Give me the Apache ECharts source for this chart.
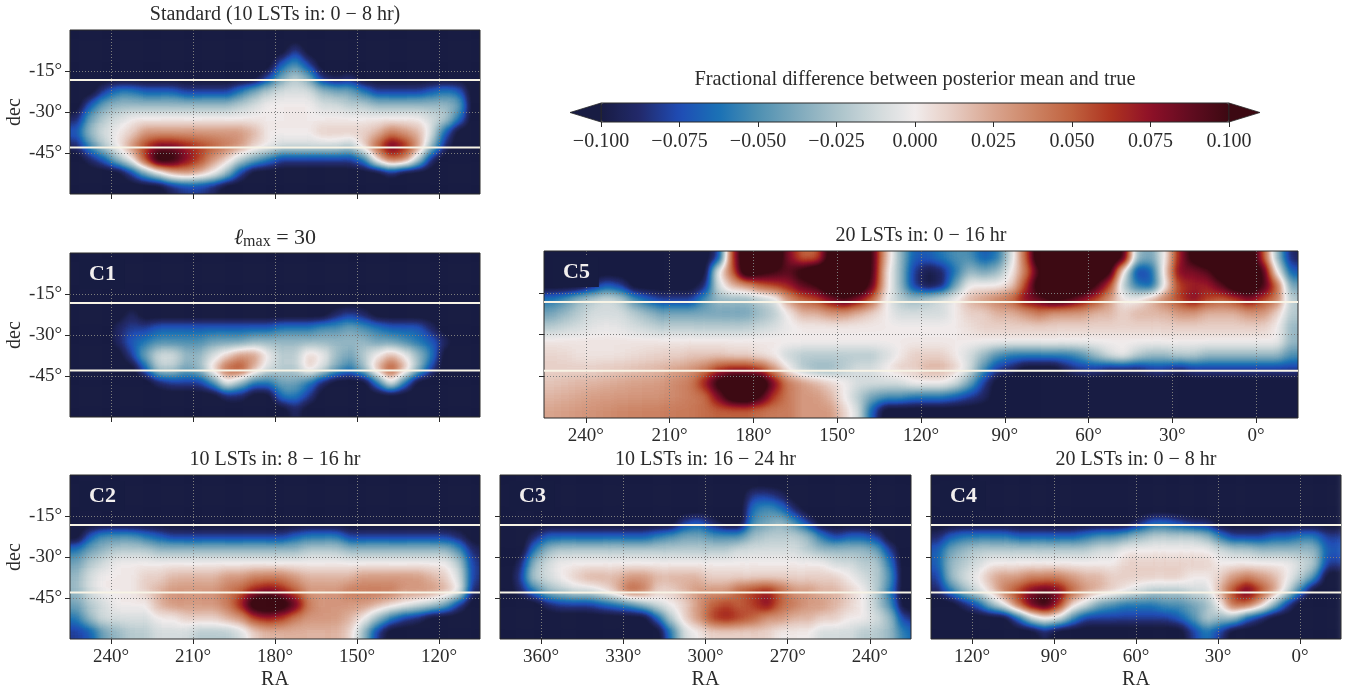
<!DOCTYPE html>
<html><head><meta charset="utf-8">
<style>html,body{margin:0;padding:0;background:#fff}#c{width:1348px;height:692px}#fx{position:absolute;width:0;height:0}</style>
<script src="https://cdn.jsdelivr.net/npm/echarts@6/dist/echarts.min.js"></script>
</head><body><div id="c"></div>
<svg id="fx" xmlns="http://www.w3.org/2000/svg"><filter id="ramp" x="0" y="0" width="100%" height="100%" color-interpolation-filters="sRGB"><feGaussianBlur stdDeviation="5.5"/><feComponentTransfer><feFuncR id="fr" type="table"/><feFuncG id="fg" type="table"/><feFuncB id="fbl" type="table"/></feComponentTransfer></filter></svg>
<script>
const n=-11; // below the colour range, in units of 0.01 fractional difference
const standardValues=[
[n,n,n,n,n,n,n,n,n,n,n,n,n,n,n,n,n,n,n,n,n,n,n,n,n,n,n,n,n,n],
[n,n,n,n,n,n,n,n,n,n,n,n,n,n,n,n,-8,n,n,n,n,n,n,n,n,n,n,n,n,n],
[n,n,n,n,n,n,n,n,n,n,n,n,n,n,n,-7,-5,-8,n,n,n,n,n,n,n,n,n,n,n,n],
[n,n,n,n,n,n,n,n,n,n,n,n,n,n,-8,-4,-2,-4,-9,-10,-9,n,n,n,n,n,n,n,n,n],
[n,n,-8,-6,-6,-7,-7,-7,-8,-8,-8,-8,-6,-4,-2,-1,-1,-1,-3,-4,-4,-6,-8,-8,-8,-8,-7,-6,-7,n],
[n,-7,-4,-3,-3,-3,-3,-3,-3,-3,-3,-3,-2,-1,0,0,0,0,-1,-1,-2,-2,-3,-3,-3,-3,-3,-3,-4,n],
[-9,-4,-2,-1,0,0,0,0,0,0,0,0,0,0,0,0,0,0,0,0,0,0,0,0,0,0,-1,-2,-6,n],
[-7,-3,-1,0,1,3,3,3,3,3,3,3,3,2,0,0,0,0,1,1,1,1,2,4,3,2,-1,-7,n,n],
[-9,-5,-2,0,3,6,8,8,7,6,5,4,3,1,0,-1,-1,-1,-1,-1,-2,1,5,9,7,3,-3,-9,n,n],
[n,-9,-7,-3,0,6,12,11,8,6,3,1,-2,-4,-6,-8,-8,-8,-8,-8,-8,-6,1,5,4,-2,-9,n,n,n],
[n,n,n,n,-8,-4,-1,2,3,2,0,-3,-8,n,n,n,n,n,n,n,n,n,n,-9,n,n,n,n,n,n],
[n,n,n,n,n,n,n,-9,-8,-8,-9,n,n,n,n,n,n,n,n,n,n,n,n,n,n,n,n,n,n,n]];
const c1Values=[
[n,n,n,n,n,n,n,n,n,n,n,n,n,n,n,n,n,n,n,n,n,n,n,n,n,n,n,n,n,n],
[n,n,n,n,n,n,n,n,n,n,n,n,n,n,n,n,n,n,n,n,n,n,n,n,n,n,n,n,n,n],
[n,n,n,n,n,n,n,n,n,n,n,n,n,n,n,n,n,n,n,n,n,n,n,n,n,n,n,n,n,n],
[n,n,n,n,n,n,n,n,n,n,n,n,n,n,n,n,n,n,n,n,n,n,n,n,n,n,n,n,n,n],
[n,n,n,n,-9,n,n,n,n,n,n,n,n,n,n,n,n,n,n,-9,-8,-9,n,n,n,n,n,n,n,n],
[n,n,n,-9,-8,-8,-7,-7,-7,-7,-7,-7,-7,-7,-7,-6,-6,-6,-5,-5,-4,-5,-6,-7,-7,-7,-9,n,n,n],
[n,n,n,-9,-7,-6,-5,-5,-5,-5,-4,-4,-4,-3,-3,-3,-3,-3,-3,-3,-3,-3,-4,-4,-5,-6,-7,-9,n,n],
[n,n,n,n,-8,-4,-1,-1,-3,-3,-1,1,3,3,0,-2,-2,1,0,-3,-4,-2,0,2,0,-3,-6,n,n,n],
[n,n,n,n,n,-7,-2,-2,-4,-3,1,5,6,2,-1,-2,-2,1,-1,-4,-6,-3,2,6,2,-3,-8,n,n,n],
[n,n,n,n,n,n,-9,-8,-8,-8,-5,0,-3,-6,-6,-4,-4,-6,-9,n,n,n,-6,0,-6,n,n,n,n,n],
[n,n,n,n,n,n,n,n,n,n,n,-9,-9,n,n,-6,-6,-8,n,n,n,n,n,n,n,n,n,n,n,n],
[n,n,n,n,n,n,n,n,n,n,n,n,n,n,n,n,-9,n,n,n,n,n,n,n,n,n,n,n,n,n]];
const c2Values=[
[n,n,n,n,n,n,n,n,n,n,n,n,n,n,n,n,n,n,n,n,n,n,n,n,n,n,n,n,n,n],
[n,n,n,n,n,n,n,n,n,n,n,n,n,n,n,n,n,n,n,n,n,n,n,n,n,n,n,n,n,n],
[n,n,n,n,n,n,n,n,n,n,n,n,n,n,n,n,n,n,n,n,n,n,n,n,n,n,n,n,n,n],
[n,n,n,n,n,n,n,n,n,n,n,n,n,n,n,n,n,n,n,n,n,n,n,n,n,n,n,n,n,n],
[n,-7,-5,-5,-5,-6,-7,-8,-8,-8,-8,-8,-8,-8,-8,-8,-7,-6,-6,-6,-8,-8,-8,-8,-8,-8,-8,-8,-9,n],
[-6,-4,-3,-2,-2,-2,-3,-3,-3,-3,-3,-3,-3,-3,-3,-3,-3,-2,-2,-2,-3,-3,-3,-3,-3,-3,-3,-3,-5,-9],
[-4,-2,-1,0,0,0,0,0,0,0,0,0,0,0,0,0,0,0,0,0,0,0,0,0,0,0,0,0,-2,-8],
[-3,-1,0,0,0,1,1,2,2,2,2,3,3,4,4,4,3,2,2,2,2,3,3,3,3,3,2,1,-1,-8],
[-3,-1,0,0,0,1,2,3,3,3,3,4,5,7,8,7,5,3,3,3,4,4,4,4,3,3,3,2,0,-9],
[-4,-2,-1,0,0,0,2,3,3,3,3,4,7,12,13,12,9,4,3,3,3,3,2,1,0,-1,-2,-4,-8,n],
[-6,-3,-1,-1,-1,-1,0,0,1,1,1,2,3,6,7,6,4,3,3,3,2,0,-3,-6,-8,-9,n,n,n,n],
[-8,-7,-4,-3,-2,-2,-1,-1,-1,-2,-2,-2,-1,1,2,2,2,2,2,2,1,-3,-8,n,n,n,n,n,n,n]];
const c3Values=[
[n,n,n,n,n,n,n,n,n,n,n,n,n,n,n,n,n,n,n,n,n,n,n,n,n,n,n,n,n,n],
[n,n,n,n,n,n,n,n,n,n,n,n,n,n,n,n,n,n,-8,-8,-9,n,n,n,n,n,n,n,n,n],
[n,n,n,n,n,n,n,n,n,n,n,n,n,n,n,n,n,n,-6,-5,-6,-9,n,n,n,n,n,n,n,n],
[n,n,n,n,n,n,n,n,n,n,n,n,n,-8,-7,-9,n,n,-5,-4,-3,-5,-8,n,n,n,n,n,n,n],
[n,n,-9,-7,-7,-7,-7,-7,-7,-7,-7,-6,-5,-4,-4,-5,-5,-5,-3,-2,-2,-2,-3,-6,-8,-7,-7,-8,n,n],
[n,n,-6,-3,-2,-2,-2,-2,-2,-2,-2,-2,-2,-2,-2,-2,-2,-1,-1,-1,-1,-1,-2,-3,-3,-3,-3,-4,-8,n],
[n,-9,-3,-1,0,0,0,0,0,0,0,0,0,0,0,0,0,0,0,0,0,0,0,0,-1,-1,-2,-2,-6,n],
[n,-8,-2,-1,0,1,2,2,2,3,3,2,2,2,2,1,1,1,1,1,1,1,1,1,1,0,-1,-2,-5,n],
[n,-9,-6,-3,-2,-1,-1,0,2,5,4,1,1,2,3,3,3,5,6,7,5,3,3,2,2,1,0,-2,-6,n],
[n,n,n,-9,-8,-8,-8,-7,-6,-5,-3,-1,0,1,3,5,6,5,6,8,5,4,3,3,2,1,0,-2,-5,n],
[n,n,n,n,n,n,n,n,n,n,n,-7,-2,1,3,6,7,6,5,3,3,2,2,1,1,0,0,-1,-3,-8],
[n,n,n,n,n,n,n,n,n,n,n,n,-6,-1,0,1,1,1,1,1,0,0,0,-1,-1,-1,-2,-2,-3,-6]];
const c4Values=[
[n,n,n,n,n,n,n,n,n,n,n,n,n,n,n,n,n,n,n,n,n,n,n,n,n,n,n,n,n,n],
[n,n,n,n,n,n,n,n,n,n,n,n,n,n,n,n,n,n,n,n,n,n,n,n,n,n,n,n,n,n],
[n,n,n,n,n,n,n,n,n,n,n,n,n,n,n,n,n,n,n,n,n,n,n,n,n,n,n,n,n,n],
[n,n,n,n,n,n,n,n,n,n,n,n,n,n,n,-9,-7,-7,-8,-9,-9,n,n,n,n,n,n,n,n,n],
[-9,-7,-6,-6,-6,-6,-7,-7,-7,-7,-7,-6,-5,-5,-4,-3,-2,-2,-2,-2,-3,-6,-8,-8,-8,-7,-7,-6,-6,-8],
[-7,-4,-3,-2,-2,-2,-2,-2,-2,-2,-2,-2,-1,-1,0,0,0,0,0,0,0,-1,-2,-2,-3,-3,-3,-3,-3,-7],
[-7,-3,-2,-1,0,0,0,0,0,0,0,0,0,0,1,1,1,1,1,1,1,0,0,0,0,0,0,-1,-2,-8],
[-8,-3,-1,0,2,3,3,4,4,4,3,2,2,1,1,1,1,1,1,0,0,1,3,4,3,2,0,-2,-5,n],
[-9,-6,-3,-1,1,4,6,8,9,8,5,3,2,1,0,-1,-2,-2,-2,-1,-1,2,6,9,6,3,-1,-6,n,n],
[n,n,-9,-7,-3,0,5,9,11,7,1,-1,-4,-5,-6,-6,-6,-5,-5,-4,-3,0,5,5,2,-3,-8,n,n,n],
[n,n,n,n,n,n,-7,-2,0,-1,-5,-8,-8,-8,-8,-8,-8,-8,-7,-5,-2,-3,-3,-7,-9,n,n,n,n,n],
[n,n,n,n,n,n,n,n,-9,n,n,n,n,n,n,n,n,n,n,-8,-6,-8,n,n,n,n,n,n,n,n]];
const c5Values=[
[n,n,n,n,n,n,n,n,n,n,n,n,-8,6,13,13,13,8,5,5,11,13,13,10,2,-3,-7,-7,-6,-5,-5,-7,-6,-1,5,13,13,13,13,13,13,10,-3,-4,0,7,11,13,13,13,13,6,-3,-9],
[n,n,n,n,n,n,n,n,n,n,n,n,0,5,13,11,10,9,11,13,13,13,13,10,1,-3,-8,-10,-9,-6,-3,-4,-3,0,4,10,13,13,13,13,11,0,-8,-7,1,8,8,9,12,13,13,10,0,-7],
[n,n,n,-9,-7,-8,n,n,n,n,n,-9,-1,2,3,5,6,7,9,10,13,13,13,9,1,-3,-8,-10,-9,-4,0,0,0,1,6,12,13,13,13,10,6,-2,-6,-7,0,6,7,7,9,12,13,10,5,-4],
[-6,-5,-3,-2,-1,-2,-5,-7,-8,-8,-8,-5,-3,-3,-3,-2,-1,3,5,6,8,10,8,5,0,-2,-3,-2,-1,0,2,3,4,5,8,9,11,10,8,6,3,0,0,2,4,6,8,6,5,6,8,6,4,-2],
[-4,-3,-2,-1,-1,-1,-2,-3,-4,-4,-4,-4,-4,-4,-4,-3,-2,0,2,2,3,3,2,1,0,-1,-1,-1,-1,0,1,1,2,2,3,4,3,3,3,2,2,1,2,2,2,3,3,2,2,2,3,3,1,-2],
[-2,-1.5,-1,-0.5,-0.3,-0.5,-1,-1.5,-2,-2,-2,-2,-2,-2,-2,-1.5,-1,-0.3,0,0,0,0,0,0,0,0,0,0,0,0,0.5,1,1,1,1,1,1,1,1,1,1,1,1,1,1,1,1,1,1,1,1,1,0,-3],
[0.3,0.3,0.3,0.3,0.3,0.3,0.3,0.3,0.3,0.3,0.3,0.3,0.3,0.3,0.3,0.3,0.3,0,0,0,0,0,0,0,0,0,0,0,0,0,0,0,0,0,0,0,0,0,0,0,0,0,0,0,0,0,0,0,0,0,0,0,0,-3],
[0.8,0.7,0.4,0.3,0.3,0.4,0.6,0.8,1,1,1.5,1.5,1.5,1,1,0.5,0,-1.5,-2,-2,-2,-2,-2,-2,-1,0,1,1,1,0,-1,-3,-5,-6,-6,-6,-6,-6,-5,-3,-1,0,-2,-3,-3,-2,-2,-3,-3,-3,-3,-3,-3,-5],
[1,1,1,1,1.2,1.3,1.6,1.8,2,2.5,3,4,6,7,7,6,3,0,-2,-3,-3,-2,-1,-1,0,1,1,2,2,1,-1,-5,-8,-9,n,n,n,-9,-8,-8,-9,-9,-9,-8,-8,-9,-8,-8,-8,-8,-8,-8,-8,-8],
[1.5,1.7,1.9,2,2.2,2.4,2.6,2.8,3,3.5,4,7,11,13,13,13,8,4,3,2,1,0,-1,-1,-1,-1,0,0,0,-1,-4,-8,n,n,n,n,n,n,n,n,n,n,n,n,n,n,n,n,n,n,n,n,n,n],
[2,2.2,2.4,2.7,2.9,3,3.1,3.2,3.3,3.5,4,4.5,8,12,13,10,6,4,3,3,2,0,-2,-4,-5,-5,-6,-6,-6,-7,-8,-9,n,n,n,n,n,n,n,n,n,n,n,n,n,n,n,n,n,n,n,n,n,n],
[2.5,2.8,3,3.2,3.4,3.6,3.7,3.8,3.9,4,4.2,4.6,5,5,5,4.5,4,4,3,3,3,1,-1,-7,n,n,n,n,n,n,n,n,n,n,n,n,n,n,n,n,n,n,n,n,n,n,n,n,n,n,n,n,n,n]];
const decTicks=[-45,-30,-15];
const bandEdges=[-43,-18.3];
const colorStops=['#181c43','#222a6c','#1f4cb5','#1a71b5','#4e90b2','#7ea9bc','#a9c2ca','#d0d9db','#f1ecec','#e6cbc1','#d9a58f','#cc8465','#c0623f','#ae3320','#8e1028','#620c20','#3c0912'];
const panels=[
 {name:'Standard',title:'Standard (10 LSTs in: 0 − 8 hr)',vals:standardValues,box:[70,30,410,164],ra:[105,255],ticks:[240,210,180,150,120],ylab:true,xlab:false,titleY:15},
 {name:'C1',title:'{i|ℓ}{sub|max}{t| = 30}',vals:c1Values,box:[70,253,410,164],ra:[105,255],ticks:[240,210,180,150,120],ylab:true,xlab:false,titleY:238,tag:'C1'},
 {name:'C5',title:'20 LSTs in: 0 − 16 hr',vals:c5Values,box:[544,251,754,167],ra:[-15,255],ticks:[240,210,180,150,120,90,60,30,0],ylab:false,xlab:true,titleY:236,tag:'C5',noName:true},
 {name:'C2',title:'10 LSTs in: 8 − 16 hr',vals:c2Values,box:[70,475,410,164],ra:[105,255],ticks:[240,210,180,150,120],ylab:true,xlab:true,titleY:460,tag:'C2'},
 {name:'C3',title:'10 LSTs in: 16 − 24 hr',vals:c3Values,box:[500,475,411,164],ra:[225,375],ticks:[360,330,300,270,240],ylab:false,xlab:true,titleY:460,tag:'C3'},
 {name:'C4',title:'20 LSTs in: 0 − 8 hr',vals:c4Values,box:[931,475,410,164],ra:[-15,135],ticks:[120,90,60,30,0],ylab:false,xlab:true,titleY:460,tag:'C4'}
];
const FONT='"Liberation Serif",serif', TXT='#2b2b2b', NAVY='#171c42', Z=2, Ztop=3;
const grid=[],xAxis=[],yAxis=[],series=[],title=[],graphic=[];
const heatIdx=[];
const clampIdx=(i,m)=>Math.max(0,Math.min(m-1,i));
panels.forEach(p=>{
 const [l,t,w,h]=p.box;
 const rows=p.vals.length, cols=p.vals[0].length, cw=w/cols, ch=h/rows;
 const gFrame=grid.length;
 grid.push({left:l,top:t,width:w,height:h,show:true,zlevel:Z,z:4,borderColor:'#2a2a2a',borderWidth:1,backgroundColor:'transparent'});
 // the heat cells' frame: one edge cell wider all round so smoothing has no seam; cropped below
 const gHeat=grid.length;
 grid.push({left:l-cw,top:t-ch,width:w+2*cw,height:h+2*ch,show:false});
 const xc=xAxis.length, yc=yAxis.length;
 xAxis.push({type:'category',gridIndex:gHeat,data:Array.from({length:cols+2},(_,j)=>String(j)),show:false,boundaryGap:true});
 yAxis.push({type:'category',gridIndex:gHeat,data:Array.from({length:rows+2},(_,i)=>String(i)),show:false,inverse:true,boundaryGap:true});
 xAxis.push({type:'value',gridIndex:gFrame,min:p.ra[0],max:p.ra[1],inverse:true,position:'bottom',zlevel:Z,z:3,
   axisLine:{show:false,onZero:false},
   axisTick:{show:true,length:5,lineStyle:{color:'#2a2a2a',width:1},customValues:p.ticks},
   axisLabel:{show:p.xlab,color:TXT,fontFamily:FONT,fontSize:19,margin:9,formatter:v=>v+'°',customValues:p.ticks},
   splitLine:{show:true,lineStyle:{color:'#7d7d7d',width:1,type:[1,2]}},
   name:(p.xlab&&!p.noName)?'RA':'',nameLocation:'middle',nameGap:31,nameTextStyle:{color:TXT,fontFamily:FONT,fontSize:20}});
 yAxis.push({type:'value',gridIndex:gFrame,min:-60,max:0,position:'left',zlevel:Z,z:3,
   axisLine:{show:false,onZero:false},
   axisTick:{show:true,length:5,lineStyle:{color:'#2a2a2a',width:1},customValues:decTicks},
   axisLabel:{show:p.ylab,color:TXT,fontFamily:FONT,fontSize:19,margin:8,padding:[3,0,0,0],formatter:v=>v+'°',customValues:decTicks},
   splitLine:{show:true,lineStyle:{color:'#7d7d7d',width:1,type:[1,2]}},
   name:p.ylab?'dec':'',nameLocation:'middle',nameGap:44,nameRotate:90,nameTextStyle:{color:TXT,fontFamily:FONT,fontSize:20}});
 const data=[];
 for(let i=-1;i<=rows;i++)for(let j=-1;j<=cols;j++)data.push([j+1,i+1,p.vals[clampIdx(i,rows)][clampIdx(j,cols)]]);
 heatIdx.push(series.length);
 series.push({type:'heatmap',name:p.name,xAxisIndex:xc,yAxisIndex:yc,data,zlevel:1,z:2,progressive:0,silent:true,animation:false,itemStyle:{borderWidth:0},emphasis:{disabled:true}});
 bandEdges.forEach(d=>series.push({type:'line',xAxisIndex:xc+1,yAxisIndex:yc+1,data:[[p.ra[0],d],[p.ra[1],d]],symbol:'none',silent:true,zlevel:Z,z:5,animation:false,lineStyle:{color:'#f8f4e6',width:2}}));
 title.push({text:p.title,left:l+w/2,top:p.titleY,padding:0,textAlign:'center',textVerticalAlign:'middle',zlevel:Ztop,
   textStyle:{color:TXT,fontFamily:FONT,fontSize:20,fontWeight:'normal',rich:{i:{fontFamily:FONT,fontStyle:'italic',fontSize:22,color:TXT},sub:{fontFamily:FONT,fontSize:16,color:TXT,verticalAlign:'bottom',padding:[7,0,0,0]},t:{fontFamily:FONT,fontSize:22,color:TXT}}}});
 if(p.tag) title.push({text:p.tag,left:l+9,top:t+6,padding:[4,9,4,10],backgroundColor:NAVY,zlevel:Ztop,z:1,
   textStyle:{color:'#f2efee',fontFamily:FONT,fontSize:22,fontWeight:'bold'}});
});
// colour bar
const CB={l:601,t:103,w:628,h:19};
const cbarGrid=grid.length;
grid.push({left:CB.l,top:CB.t,width:CB.w,height:CB.h,show:true,zlevel:Z,borderColor:'#2a2a2a',borderWidth:1,backgroundColor:'transparent'});
xAxis.push({type:'value',gridIndex:cbarGrid,min:-0.1,max:0.1,interval:0.025,position:'bottom',zlevel:Z,
 axisLine:{show:false,onZero:false},splitLine:{show:false},axisTick:{show:true,length:5,lineStyle:{color:'#2a2a2a'}},
 axisLabel:{color:TXT,fontFamily:FONT,fontSize:20,margin:10,showMinLabel:true,showMaxLabel:true,formatter:v=>(v<-1e-9?'−':'')+Math.abs(v).toFixed(3)}});
yAxis.push({type:'value',gridIndex:cbarGrid,min:0,max:1,show:false});
const keyIdx=series.length;
series.push({type:'scatter',xAxisIndex:xAxis.length-1,yAxisIndex:yAxis.length-1,data:[],silent:true});
graphic.push({type:'polygon',zlevel:Z,silent:true,shape:{points:[[CB.l,CB.t],[570,CB.t+CB.h/2],[CB.l,CB.t+CB.h]]},style:{fill:colorStops[0],stroke:'#2a2a2a',lineWidth:.8}});
graphic.push({type:'polygon',zlevel:Z,silent:true,shape:{points:[[CB.l+CB.w,CB.t],[1260,CB.t+CB.h/2],[CB.l+CB.w,CB.t+CB.h]]},style:{fill:colorStops[16],stroke:'#2a2a2a',lineWidth:.8}});
title.push({text:'Fractional difference between posterior mean and true',left:915,top:80,padding:0,textAlign:'center',textVerticalAlign:'middle',zlevel:Ztop,textStyle:{color:TXT,fontFamily:FONT,fontSize:20.4,fontWeight:'normal'}});
// grey range runs past the colour range by three ramp steps each side, so saturated values stay saturated after smoothing
const STEP=1.25, EXTRA=3, RANGE=10+EXTRA*STEP;
const chart=echarts.init(document.getElementById('c'),null,{renderer:'canvas'});
chart.setOption({animation:false,backgroundColor:'#fff',tooltip:{show:false},title,grid,xAxis,yAxis,series,graphic,
 visualMap:[
  {type:'continuous',min:-10,max:10,seriesIndex:keyIdx,orient:'horizontal',left:CB.l,top:CB.t,itemWidth:CB.h,itemHeight:CB.w,padding:0,calculable:false,realtime:false,hoverLink:false,text:null,inRange:{color:colorStops}},
  {type:'continuous',min:-RANGE,max:RANGE,seriesIndex:heatIdx,show:false,inRange:{color:['#000000','#ffffff']}}
 ]});
// The heat layer is drawn as linear value greys, smoothed, then passed through the same colour ramp.
const first=colorStops[0], last=colorStops[colorStops.length-1];
const table=[first,first,first,...colorStops,last,last,last];
const rgb=table.map(c=>[1,3,5].map(i=>parseInt(c.substr(i,2),16)/255));
[['fr',0],['fg',1],['fbl',2]].forEach(([id,ch])=>document.getElementById(id).setAttribute('tableValues',rgb.map(v=>v[ch].toFixed(4)).join(' ')));
const layer=chart.getZr().painter.getLayer(1);
if(layer&&layer.dom){
 const clip=panels.map(p=>{const [l,t,w,h]=p.box;return `M${l} ${t}H${l+w}V${t+h}H${l}Z`}).join(' ');
 layer.dom.style.filter='url(#ramp)';
 layer.dom.style.clipPath=`path('${clip}')`;
}
</script></body></html>
